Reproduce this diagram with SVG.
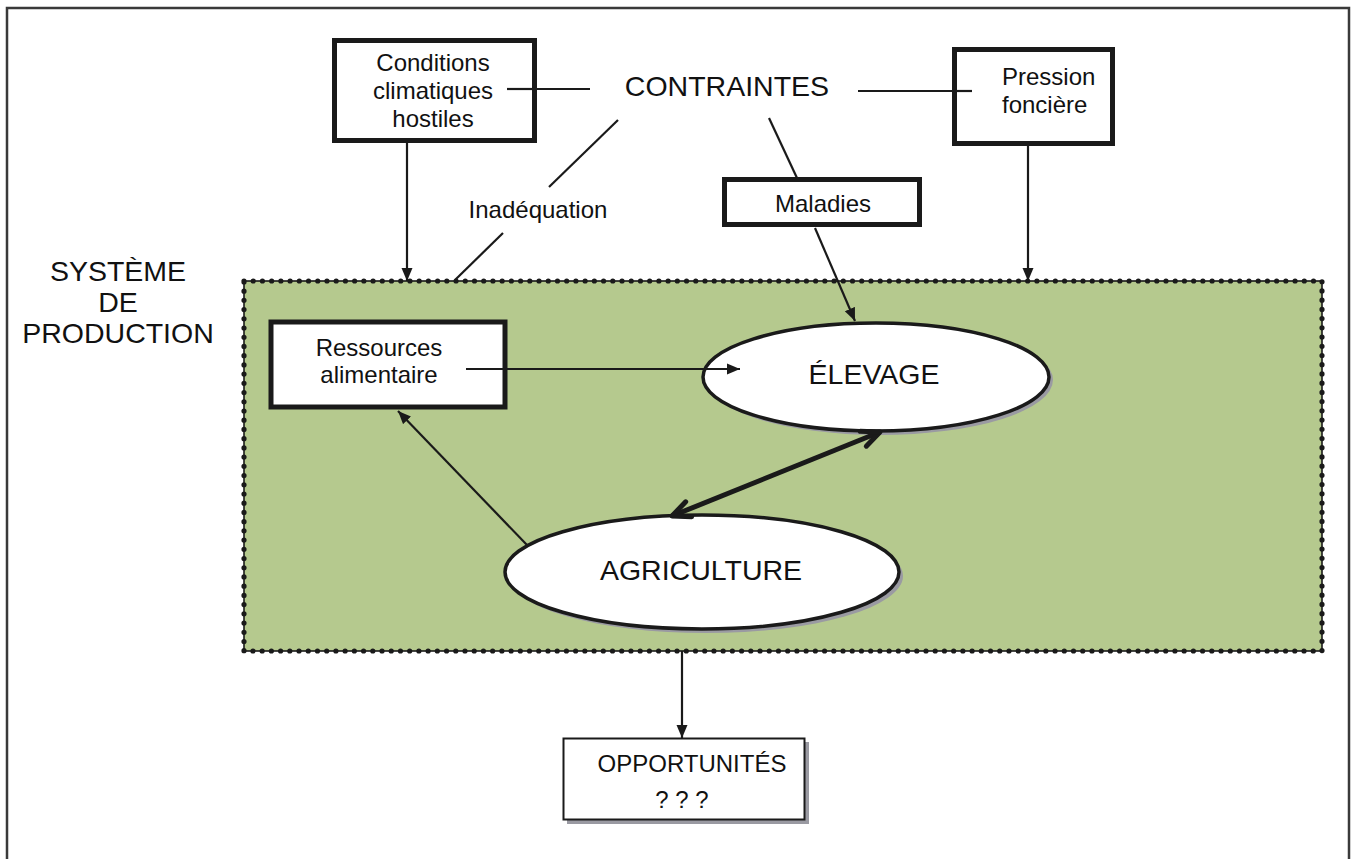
<svg xmlns="http://www.w3.org/2000/svg" width="1354" height="859" viewBox="0 0 1354 859">
  <style>
    text { font-family: "Liberation Sans", Arial, Helvetica, sans-serif; fill: #111; }
    .big { font-size: 28.5px; }
    .mid { font-size: 24px; }
    .thickbox { fill: #fff; stroke: #1a1a1a; stroke-width: 5; }
    .ell { fill: #fff; stroke: #1a1a1a; stroke-width: 3.5; }
    .shadow { fill: #9a9aa2; stroke: none; }
    .wire { fill: none; stroke: #1a1a1a; stroke-width: 2.2; }
  </style>
  <defs>
    <marker id="tri" markerUnits="userSpaceOnUse" viewBox="-13 -6 14 12" markerWidth="14" markerHeight="12" refX="0" refY="0" orient="auto">
      <path d="M -13 -5.5 L 0 0 L -13 5.5 Z" fill="#1a1a1a"/>
    </marker>
    <marker id="chev" markerUnits="userSpaceOnUse" viewBox="-22 -12 25 24" markerWidth="25" markerHeight="24" refX="0" refY="0" orient="auto-start-reverse">
      <path d="M -18 -8 L 0 0 L -18 8" fill="none" stroke="#1a1a1a" stroke-width="5" stroke-linecap="round" stroke-linejoin="round"/>
    </marker>
  </defs>

  <!-- page frame -->
  <rect x="7" y="8" width="1342" height="862" fill="#fff" stroke="#3a3a3a" stroke-width="2.5"/>

  <!-- production system area -->
  <g id="systeme">
    <rect x="244" y="281" width="1078" height="370" fill="#b5c98e" stroke="#1a1a1a" stroke-width="1.6"/>
    <rect x="244" y="281" width="1078" height="370" fill="none" stroke="#1a1a1a" stroke-width="5.2" stroke-linecap="round" stroke-dasharray="0 9.22"/>
    <text class="big" text-anchor="middle" x="118" y="281">SYSTÈME</text>
    <text class="big" text-anchor="middle" x="118" y="312">DE</text>
    <text class="big" text-anchor="middle" x="118" y="343">PRODUCTION</text>
  </g>

  <!-- connectors -->
  <g id="connectors">
    <line class="wire" x1="507" y1="89" x2="590" y2="89"/>
    <line class="wire" x1="858" y1="91" x2="972" y2="91"/>
    <line class="wire" x1="618" y1="120" x2="549" y2="187" stroke-width="2.6"/>
    <line class="wire" x1="503" y1="233" x2="455" y2="280" stroke-width="4"/>
    <line class="wire" x1="769" y1="118" x2="797" y2="178"/>
    <line class="wire" x1="407" y1="143" x2="407" y2="281" marker-end="url(#tri)"/>
    <line class="wire" x1="1028" y1="146" x2="1028" y2="281" marker-end="url(#tri)"/>
    <line class="wire" x1="815" y1="228" x2="855" y2="321" marker-end="url(#tri)"/>
    <line class="wire" x1="466" y1="369" x2="740" y2="369" marker-end="url(#tri)"/>
    <line class="wire" x1="527" y1="545" x2="398" y2="411" marker-end="url(#tri)"/>
    <line class="wire" x1="682" y1="651" x2="682" y2="738" marker-end="url(#tri)"/>
  </g>

  <g id="contraintes">
    <text class="big" text-anchor="middle" x="727" y="96">CONTRAINTES</text>
  </g>

  <g id="conditions">
    <rect class="thickbox" x="334.5" y="40.5" width="200" height="100"/>
    <text class="mid" text-anchor="middle" x="433" y="71">Conditions</text>
    <text class="mid" text-anchor="middle" x="433" y="99">climatiques</text>
    <text class="mid" text-anchor="middle" x="433" y="127">hostiles</text>
    <line class="wire" x1="507" y1="89" x2="534" y2="89"/>
  </g>

  <g id="pression">
    <rect class="thickbox" x="954.5" y="49.5" width="158" height="94"/>
    <text class="mid" x="1002" y="85">Pression</text>
    <text class="mid" x="1002" y="113">foncière</text>
    <line class="wire" x1="954" y1="91" x2="972" y2="91"/>
  </g>

  <g id="inadequation">
    <text class="mid" text-anchor="middle" x="538" y="218">Inadéquation</text>
  </g>

  <g id="maladies">
    <rect class="thickbox" x="724.5" y="179.5" width="195" height="45"/>
    <text class="mid" text-anchor="middle" x="823" y="212">Maladies</text>
  </g>

  <g id="ressources">
    <rect class="thickbox" x="271" y="322" width="234" height="85"/>
    <text class="mid" text-anchor="middle" x="379" y="356">Ressources</text>
    <text class="mid" text-anchor="middle" x="379" y="383">alimentaire</text>
    <line class="wire" x1="466" y1="369" x2="505" y2="369"/>
  </g>

  <g id="elevage">
    <ellipse class="shadow" cx="880" cy="380" rx="173" ry="55"/>
    <ellipse class="ell" cx="876" cy="377" rx="173" ry="54"/>
    <text class="big" text-anchor="middle" x="874" y="384">ÉLEVAGE</text>
    <line class="wire" x1="703" y1="369" x2="740" y2="369" marker-end="url(#tri)"/>
  </g>

  <g id="agriculture">
    <ellipse class="shadow" cx="706" cy="576" rx="197" ry="57"/>
    <ellipse class="ell" cx="702" cy="572" rx="197" ry="57"/>
    <text class="big" text-anchor="middle" x="701" y="580">AGRICULTURE</text>
  </g>

  <!-- two-way link between farming and livestock -->
  <g id="lien-agri-elevage">
    <line x1="672" y1="516" x2="880" y2="432" stroke="#1a1a1a" stroke-width="5" marker-start="url(#chev)" marker-end="url(#chev)"/>
  </g>

  <g id="opportunites">
    <rect x="567" y="742" width="242" height="82" fill="#9a9aa2"/>
    <rect x="563.5" y="738.5" width="241" height="81" fill="#fff" stroke="#1a1a1a" stroke-width="2"/>
    <text class="mid" text-anchor="middle" x="692" y="772">OPPORTUNITÉS</text>
    <text class="mid" text-anchor="middle" x="682" y="808">? ? ?</text>
  </g>
</svg>
